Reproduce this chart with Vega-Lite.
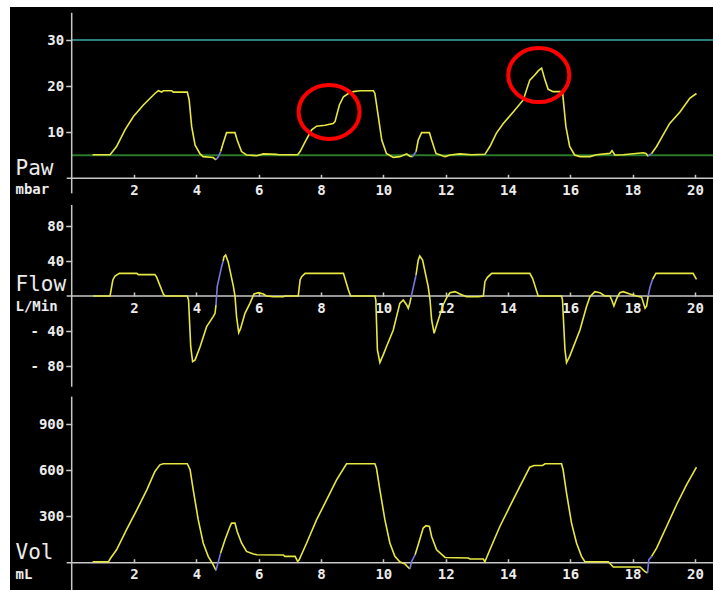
{
  "$schema": "https://vega.github.io/schema/vega-lite/v6.json",
  "background": "white",
  "padding": {"left": 10, "top": 7, "right": 0, "bottom": 0},
  "spacing": 0,
  "config": {
    "view": {"stroke": null, "fill": "black"},
    "axis": {
      "domain": false, "grid": false,
      "tickColor": "#c8c8c8", "tickWidth": 1.5,
      "labelFont": "DejaVu Sans Mono", "labelFontWeight": "bold", "labelFontSize": 14, "labelColor": "#ececec",
      "labelFlush": false, "labelOverlap": false,
      "titleColor": "#ececec", "titleAngle": 0, "titleAlign": "left", "titleBaseline": "alphabetic"
    }
  },
  "datasets": {
    "one": [{}],
    "paw": [
      {"t":0.67,"v":5.1,"s":1,"k":"main"},{"t":1.23,"v":5.1,"s":1,"k":"main"},{"t":1.44,"v":6.9,"s":1,"k":"main"},{"t":1.71,"v":10.5,"s":1,"k":"main"},{"t":1.98,"v":13.4,"s":1,"k":"main"},{"t":2.30,"v":15.9,"s":1,"k":"main"},{"t":2.67,"v":18.4,"s":1,"k":"main"},{"t":2.78,"v":19.0,"s":1,"k":"main"},{"t":2.89,"v":18.7,"s":1,"k":"main"},{"t":2.94,"v":19.0,"s":1,"k":"main"},{"t":3.21,"v":19.0,"s":1,"k":"main"},{"t":3.26,"v":18.7,"s":1,"k":"main"},{"t":3.71,"v":18.7,"s":1,"k":"main"},{"t":3.77,"v":17.0,"s":1,"k":"main"},{"t":3.85,"v":11.2,"s":1,"k":"main"},{"t":3.96,"v":7.2,"s":1,"k":"main"},{"t":4.12,"v":5.3,"s":1,"k":"main"},{"t":4.22,"v":4.7,"s":1,"k":"main"},{"t":4.54,"v":4.5,"s":1,"k":"main"},{"t":4.63,"v":4.0,"s":1,"k":"main"},
      {"t":4.63,"v":4.0,"s":2,"k":"trigger"},{"t":4.70,"v":4.6,"s":2,"k":"trigger"},{"t":4.78,"v":5.8,"s":2,"k":"trigger"},
      {"t":4.78,"v":5.8,"s":3,"k":"main"},{"t":4.86,"v":7.6,"s":3,"k":"main"},{"t":4.97,"v":9.9,"s":3,"k":"main"},{"t":5.24,"v":9.9,"s":3,"k":"main"},{"t":5.31,"v":8.3,"s":3,"k":"main"},{"t":5.45,"v":5.8,"s":3,"k":"main"},{"t":5.61,"v":5.05,"s":3,"k":"main"},{"t":5.94,"v":4.9,"s":3,"k":"main"},{"t":6.15,"v":5.3,"s":3,"k":"main"},{"t":6.58,"v":5.2,"s":3,"k":"main"},{"t":6.63,"v":5.1,"s":3,"k":"main"},{"t":7.25,"v":5.1,"s":3,"k":"main"},{"t":7.33,"v":5.8,"s":3,"k":"main"},{"t":7.49,"v":7.9,"s":3,"k":"main"},{"t":7.70,"v":10.5,"s":3,"k":"main"},{"t":7.86,"v":11.3,"s":3,"k":"main"},{"t":8.13,"v":11.5,"s":3,"k":"main"},{"t":8.39,"v":11.9,"s":3,"k":"main"},{"t":8.45,"v":12.3,"s":3,"k":"main"},{"t":8.59,"v":15.9,"s":3,"k":"main"},{"t":8.72,"v":17.7,"s":3,"k":"main"},{"t":8.88,"v":18.4,"s":3,"k":"main"},{"t":9.04,"v":18.8,"s":3,"k":"main"},{"t":9.25,"v":19.0,"s":3,"k":"main"},{"t":9.68,"v":19.0,"s":3,"k":"main"},{"t":9.73,"v":18.4,"s":3,"k":"main"},{"t":9.84,"v":13.4,"s":3,"k":"main"},{"t":9.95,"v":8.3,"s":3,"k":"main"},{"t":10.1,"v":5.4,"s":3,"k":"main"},{"t":10.32,"v":4.55,"s":3,"k":"main"},{"t":10.53,"v":4.7,"s":3,"k":"main"},{"t":10.75,"v":5.3,"s":3,"k":"main"},{"t":10.85,"v":4.8,"s":3,"k":"main"},{"t":10.94,"v":4.7,"s":3,"k":"main"},
      {"t":10.94,"v":4.7,"s":4,"k":"trigger"},{"t":11.05,"v":5.8,"s":4,"k":"trigger"},
      {"t":11.05,"v":5.8,"s":5,"k":"main"},{"t":11.12,"v":8.3,"s":5,"k":"main"},{"t":11.23,"v":9.9,"s":5,"k":"main"},{"t":11.48,"v":9.9,"s":5,"k":"main"},{"t":11.55,"v":8.3,"s":5,"k":"main"},{"t":11.69,"v":5.4,"s":5,"k":"main"},{"t":11.98,"v":4.7,"s":5,"k":"main"},{"t":12.14,"v":5.05,"s":5,"k":"main"},{"t":12.46,"v":5.3,"s":5,"k":"main"},{"t":12.83,"v":5.1,"s":5,"k":"main"},{"t":13.26,"v":5.2,"s":5,"k":"main"},{"t":13.42,"v":6.9,"s":5,"k":"main"},{"t":13.63,"v":9.8,"s":5,"k":"main"},{"t":13.85,"v":11.9,"s":5,"k":"main"},{"t":14.17,"v":14.4,"s":5,"k":"main"},{"t":14.49,"v":17.0,"s":5,"k":"main"},{"t":14.70,"v":21.3,"s":5,"k":"main"},{"t":14.86,"v":22.4,"s":5,"k":"main"},{"t":14.97,"v":23.3,"s":5,"k":"main"},{"t":15.08,"v":23.9,"s":5,"k":"main"},{"t":15.19,"v":21.3,"s":5,"k":"main"},{"t":15.29,"v":19.3,"s":5,"k":"main"},{"t":15.45,"v":18.8,"s":5,"k":"main"},{"t":15.75,"v":18.8,"s":5,"k":"main"},{"t":15.86,"v":11.2,"s":5,"k":"main"},{"t":15.98,"v":6.9,"s":5,"k":"main"},{"t":16.14,"v":5.05,"s":5,"k":"main"},{"t":16.31,"v":4.7,"s":5,"k":"main"},{"t":16.63,"v":4.7,"s":5,"k":"main"},{"t":16.84,"v":5.1,"s":5,"k":"main"},{"t":17.27,"v":5.4,"s":5,"k":"main"},{"t":17.34,"v":6.0,"s":5,"k":"main"},{"t":17.43,"v":5.05,"s":5,"k":"main"},{"t":17.70,"v":5.1,"s":5,"k":"main"},{"t":18.34,"v":5.55,"s":5,"k":"main"},{"t":18.43,"v":5.4,"s":5,"k":"main"},{"t":18.50,"v":4.8,"s":5,"k":"main"},
      {"t":18.50,"v":4.8,"s":6,"k":"trigger"},{"t":18.61,"v":5.4,"s":6,"k":"trigger"},
      {"t":18.61,"v":5.4,"s":7,"k":"main"},{"t":18.77,"v":6.9,"s":7,"k":"main"},{"t":18.98,"v":9.4,"s":7,"k":"main"},{"t":19.19,"v":11.9,"s":7,"k":"main"},{"t":19.52,"v":14.4,"s":7,"k":"main"},{"t":19.84,"v":17.4,"s":7,"k":"main"},{"t":20.05,"v":18.4,"s":7,"k":"main"}
    ],
    "flow": [
      {"t":0.69,"v":0,"s":1,"k":"main"},{"t":1.23,"v":0,"s":1,"k":"main"},{"t":1.32,"v":18.3,"s":1,"k":"main"},{"t":1.39,"v":22.9,"s":1,"k":"main"},{"t":1.53,"v":25.9,"s":1,"k":"main"},{"t":2.09,"v":25.9,"s":1,"k":"main"},{"t":2.14,"v":24.4,"s":1,"k":"main"},{"t":2.67,"v":24.4,"s":1,"k":"main"},{"t":2.73,"v":21.3,"s":1,"k":"main"},{"t":2.94,"v":2.3,"s":1,"k":"main"},{"t":3.0,"v":0,"s":1,"k":"main"},{"t":3.71,"v":0,"s":1,"k":"main"},{"t":3.75,"v":-4.6,"s":1,"k":"main"},{"t":3.82,"v":-57.9,"s":1,"k":"main"},{"t":3.88,"v":-75,"s":1,"k":"main"},{"t":3.96,"v":-73,"s":1,"k":"main"},{"t":4.12,"v":-58,"s":1,"k":"main"},{"t":4.33,"v":-35,"s":1,"k":"main"},{"t":4.54,"v":-23.6,"s":1,"k":"main"},{"t":4.60,"v":-19.8,"s":1,"k":"main"},{"t":4.63,"v":-10.3,"s":1,"k":"main"},
      {"t":4.63,"v":-10.3,"s":2,"k":"trigger"},{"t":4.67,"v":10.7,"s":2,"k":"trigger"},{"t":4.81,"v":33.5,"s":2,"k":"trigger"},{"t":4.86,"v":40,"s":2,"k":"trigger"},
      {"t":4.86,"v":40,"s":3,"k":"main"},{"t":4.89,"v":45,"s":3,"k":"main"},{"t":4.94,"v":46.9,"s":3,"k":"main"},{"t":5.02,"v":39.2,"s":3,"k":"main"},{"t":5.19,"v":10.7,"s":3,"k":"main"},{"t":5.24,"v":0,"s":3,"k":"main"},{"t":5.29,"v":-23.6,"s":3,"k":"main"},{"t":5.36,"v":-41.9,"s":3,"k":"main"},{"t":5.42,"v":-37,"s":3,"k":"main"},{"t":5.56,"v":-19.8,"s":3,"k":"main"},{"t":5.72,"v":-8.4,"s":3,"k":"main"},{"t":5.85,"v":2.3,"s":3,"k":"main"},{"t":5.99,"v":3.8,"s":3,"k":"main"},{"t":6.15,"v":2.3,"s":3,"k":"main"},{"t":6.25,"v":0,"s":3,"k":"main"},{"t":6.47,"v":-0.8,"s":3,"k":"main"},{"t":6.79,"v":-0.8,"s":3,"k":"main"},{"t":6.84,"v":0,"s":3,"k":"main"},{"t":7.27,"v":0,"s":3,"k":"main"},{"t":7.33,"v":18.3,"s":3,"k":"main"},{"t":7.38,"v":22,"s":3,"k":"main"},{"t":7.49,"v":25.9,"s":3,"k":"main"},{"t":8.72,"v":25.9,"s":3,"k":"main"},{"t":8.88,"v":6.9,"s":3,"k":"main"},{"t":8.95,"v":0,"s":3,"k":"main"},{"t":9.73,"v":0,"s":3,"k":"main"},{"t":9.76,"v":-4.6,"s":3,"k":"main"},{"t":9.81,"v":-61.7,"s":3,"k":"main"},{"t":9.89,"v":-76,"s":3,"k":"main"},{"t":10.0,"v":-67,"s":3,"k":"main"},{"t":10.1,"v":-58,"s":3,"k":"main"},{"t":10.32,"v":-38.9,"s":3,"k":"main"},{"t":10.53,"v":-8.4,"s":3,"k":"main"},{"t":10.64,"v":-4.6,"s":3,"k":"main"},{"t":10.75,"v":-10.3,"s":3,"k":"main"},{"t":10.80,"v":-14,"s":3,"k":"main"},{"t":10.85,"v":-8.4,"s":3,"k":"main"},{"t":10.89,"v":-1.5,"s":3,"k":"main"},
      {"t":10.89,"v":-1.5,"s":4,"k":"trigger"},{"t":11.05,"v":24,"s":4,"k":"trigger"},
      {"t":11.05,"v":24,"s":5,"k":"main"},{"t":11.12,"v":41,"s":5,"k":"main"},{"t":11.17,"v":45.7,"s":5,"k":"main"},{"t":11.26,"v":41,"s":5,"k":"main"},{"t":11.44,"v":10.7,"s":5,"k":"main"},{"t":11.5,"v":-4.6,"s":5,"k":"main"},{"t":11.55,"v":-27.4,"s":5,"k":"main"},{"t":11.63,"v":-42.7,"s":5,"k":"main"},{"t":11.73,"v":-31.2,"s":5,"k":"main"},{"t":11.92,"v":-10.3,"s":5,"k":"main"},{"t":12.05,"v":-0.8,"s":5,"k":"main"},{"t":12.14,"v":3.8,"s":5,"k":"main"},{"t":12.3,"v":5,"s":5,"k":"main"},{"t":12.46,"v":2.3,"s":5,"k":"main"},{"t":12.67,"v":-0.8,"s":5,"k":"main"},{"t":13.05,"v":-0.8,"s":5,"k":"main"},{"t":13.21,"v":0,"s":5,"k":"main"},{"t":13.26,"v":16.4,"s":5,"k":"main"},{"t":13.34,"v":21.3,"s":5,"k":"main"},{"t":13.48,"v":25.9,"s":5,"k":"main"},{"t":14.70,"v":25.9,"s":5,"k":"main"},{"t":14.79,"v":20.2,"s":5,"k":"main"},{"t":14.97,"v":0,"s":5,"k":"main"},{"t":15.72,"v":0,"s":5,"k":"main"},{"t":15.75,"v":-4.6,"s":5,"k":"main"},{"t":15.83,"v":-61.7,"s":5,"k":"main"},{"t":15.88,"v":-76,"s":5,"k":"main"},{"t":15.98,"v":-69,"s":5,"k":"main"},{"t":16.31,"v":-38.9,"s":5,"k":"main"},{"t":16.52,"v":-12.2,"s":5,"k":"main"},{"t":16.63,"v":-0.8,"s":5,"k":"main"},{"t":16.79,"v":5,"s":5,"k":"main"},{"t":16.95,"v":3.8,"s":5,"k":"main"},{"t":17.11,"v":0,"s":5,"k":"main"},{"t":17.27,"v":0,"s":5,"k":"main"},{"t":17.33,"v":-4.6,"s":5,"k":"main"},{"t":17.40,"v":-11.4,"s":5,"k":"main"},{"t":17.49,"v":-2.7,"s":5,"k":"main"},{"t":17.59,"v":3.8,"s":5,"k":"main"},{"t":17.70,"v":5,"s":5,"k":"main"},{"t":17.91,"v":2.3,"s":5,"k":"main"},{"t":18.13,"v":0,"s":5,"k":"main"},{"t":18.29,"v":-1.5,"s":5,"k":"main"},{"t":18.40,"v":-14,"s":5,"k":"main"},{"t":18.45,"v":-11.4,"s":5,"k":"main"},{"t":18.50,"v":0,"s":5,"k":"main"},
      {"t":18.50,"v":0,"s":6,"k":"trigger"},{"t":18.56,"v":10.7,"s":6,"k":"trigger"},{"t":18.64,"v":19,"s":6,"k":"trigger"},
      {"t":18.64,"v":19,"s":7,"k":"main"},{"t":18.75,"v":25.9,"s":7,"k":"main"},{"t":19.94,"v":25.9,"s":7,"k":"main"},{"t":20.05,"v":19,"s":7,"k":"main"}
    ],
    "vol": [
      {"t":0.67,"v":6,"s":1,"k":"main"},{"t":1.18,"v":6,"s":1,"k":"main"},{"t":1.23,"v":24,"s":1,"k":"main"},{"t":1.44,"v":84,"s":1,"k":"main"},{"t":1.76,"v":214,"s":1,"k":"main"},{"t":2.09,"v":343,"s":1,"k":"main"},{"t":2.41,"v":473,"s":1,"k":"main"},{"t":2.67,"v":592,"s":1,"k":"main"},{"t":2.83,"v":635,"s":1,"k":"main"},{"t":2.94,"v":642,"s":1,"k":"main"},{"t":3.71,"v":642,"s":1,"k":"main"},{"t":3.80,"v":603,"s":1,"k":"main"},{"t":3.90,"v":473,"s":1,"k":"main"},{"t":4.06,"v":279,"s":1,"k":"main"},{"t":4.22,"v":128,"s":1,"k":"main"},{"t":4.38,"v":41,"s":1,"k":"main"},{"t":4.54,"v":-13,"s":1,"k":"main"},{"t":4.63,"v":-50,"s":1,"k":"main"},
      {"t":4.63,"v":-50,"s":2,"k":"trigger"},{"t":4.78,"v":63,"s":2,"k":"trigger"},
      {"t":4.78,"v":63,"s":3,"k":"main"},{"t":4.92,"v":149,"s":3,"k":"main"},{"t":5.08,"v":235,"s":3,"k":"main"},{"t":5.13,"v":257,"s":3,"k":"main"},{"t":5.24,"v":257,"s":3,"k":"main"},{"t":5.31,"v":203,"s":3,"k":"main"},{"t":5.45,"v":128,"s":3,"k":"main"},{"t":5.61,"v":73,"s":3,"k":"main"},{"t":5.83,"v":56,"s":3,"k":"main"},{"t":5.94,"v":52,"s":3,"k":"main"},{"t":6.79,"v":50,"s":3,"k":"main"},{"t":6.84,"v":41,"s":3,"k":"main"},{"t":7.17,"v":41,"s":3,"k":"main"},{"t":7.25,"v":8,"s":3,"k":"main"},{"t":7.30,"v":19,"s":3,"k":"main"},{"t":7.54,"v":128,"s":3,"k":"main"},{"t":7.86,"v":279,"s":3,"k":"main"},{"t":8.18,"v":408,"s":3,"k":"main"},{"t":8.50,"v":538,"s":3,"k":"main"},{"t":8.82,"v":642,"s":3,"k":"main"},{"t":9.73,"v":642,"s":3,"k":"main"},{"t":9.78,"v":614,"s":3,"k":"main"},{"t":9.89,"v":473,"s":3,"k":"main"},{"t":10.05,"v":279,"s":3,"k":"main"},{"t":10.21,"v":128,"s":3,"k":"main"},{"t":10.37,"v":41,"s":3,"k":"main"},{"t":10.53,"v":6,"s":3,"k":"main"},{"t":10.70,"v":-9,"s":3,"k":"main"},{"t":10.85,"v":-41,"s":3,"k":"main"},
      {"t":10.85,"v":-41,"s":4,"k":"trigger"},{"t":10.91,"v":8,"s":4,"k":"trigger"},{"t":11.02,"v":52,"s":4,"k":"trigger"},
      {"t":11.02,"v":52,"s":5,"k":"main"},{"t":11.12,"v":117,"s":5,"k":"main"},{"t":11.28,"v":225,"s":5,"k":"main"},{"t":11.37,"v":240,"s":5,"k":"main"},{"t":11.48,"v":235,"s":5,"k":"main"},{"t":11.55,"v":170,"s":5,"k":"main"},{"t":11.71,"v":84,"s":5,"k":"main"},{"t":11.98,"v":34,"s":5,"k":"main"},{"t":12.73,"v":30,"s":5,"k":"main"},{"t":12.78,"v":24,"s":5,"k":"main"},{"t":13.21,"v":24,"s":5,"k":"main"},{"t":13.26,"v":6,"s":5,"k":"main"},{"t":13.42,"v":84,"s":5,"k":"main"},{"t":13.74,"v":235,"s":5,"k":"main"},{"t":14.06,"v":365,"s":5,"k":"main"},{"t":14.38,"v":494,"s":5,"k":"main"},{"t":14.70,"v":620,"s":5,"k":"main"},{"t":14.84,"v":631,"s":5,"k":"main"},{"t":15.11,"v":631,"s":5,"k":"main"},{"t":15.19,"v":642,"s":5,"k":"main"},{"t":15.72,"v":642,"s":5,"k":"main"},{"t":15.77,"v":603,"s":5,"k":"main"},{"t":15.88,"v":451,"s":5,"k":"main"},{"t":16.04,"v":257,"s":5,"k":"main"},{"t":16.2,"v":128,"s":5,"k":"main"},{"t":16.36,"v":41,"s":5,"k":"main"},{"t":16.47,"v":6,"s":5,"k":"main"},{"t":17.22,"v":6,"s":5,"k":"main"},{"t":17.38,"v":-28,"s":5,"k":"main"},{"t":18.24,"v":-28,"s":5,"k":"main"},{"t":18.39,"v":-56,"s":5,"k":"main"},{"t":18.48,"v":-67,"s":5,"k":"main"},
      {"t":18.48,"v":-67,"s":6,"k":"trigger"},{"t":18.52,"v":19,"s":6,"k":"trigger"},{"t":18.61,"v":41,"s":6,"k":"trigger"},
      {"t":18.61,"v":41,"s":7,"k":"main"},{"t":18.77,"v":95,"s":7,"k":"main"},{"t":19.09,"v":235,"s":7,"k":"main"},{"t":19.41,"v":376,"s":7,"k":"main"},{"t":19.73,"v":505,"s":7,"k":"main"},{"t":20.05,"v":620,"s":7,"k":"main"}
    ],
    "marks": [
      {"t":8.26,"v":14.4},{"t":14.99,"v":22.4}
    ]
  },
  "vconcat": [
    {
      "width": 703, "height": 192,
      "layer": [
        {"data": {"name": "one"}, "mark": {"type": "rule", "color": "#2b8080", "strokeWidth": 2},
         "encoding": {"x": {"datum": 0, "type": "quantitative"}, "x2": {"datum": 20.58}, "y": {"datum": 30, "type": "quantitative"}}},
        {"data": {"name": "one"}, "mark": {"type": "rule", "color": "#2a7a2a", "strokeWidth": 2},
         "encoding": {"x": {"datum": 0, "type": "quantitative"}, "x2": {"datum": 20.58}, "y": {"datum": 5, "type": "quantitative"}}},
        {"data": {"name": "one"}, "mark": {"type": "rule", "color": "#c8c8c8", "strokeWidth": 1.5},
         "encoding": {"x": {"datum": -0.16, "type": "quantitative"}, "x2": {"datum": 20.58}, "y": {"datum": 0, "type": "quantitative"}}},
        {"data": {"name": "one"}, "mark": {"type": "rule", "color": "#c8c8c8", "strokeWidth": 1.5},
         "encoding": {"x": {"datum": 0, "type": "quantitative"}, "y": {"datum": -3.25, "type": "quantitative"}, "y2": {"datum": 35.9}}},
        {"data": {"name": "paw"},
         "mark": {"type": "line", "strokeWidth": 1.6},
         "encoding": {
           "x": {"field": "t", "type": "quantitative", "scale": {"domain": [-1.98, 20.58], "nice": false, "zero": false},
                 "axis": {"values": [2,4,6,8,10,12,14,16,18,20], "offset": -20.7, "tickSize": -4, "labelPadding": 9,
                          "title": "mbar", "titleFont": "DejaVu Sans Mono", "titleFontWeight": "bold", "titleFontSize": 14, "titleX": 5, "titleY": 14.7}},
           "y": {"field": "v", "type": "quantitative", "scale": {"domain": [-4.49, 37.16], "nice": false, "zero": false},
                 "axis": {"values": [10,20,30], "offset": -61.7, "tickSize": 6, "labelPadding": 2,
                          "title": "Paw", "titleFont": "DejaVu Sans Mono", "titleFontWeight": "normal", "titleFontSize": 21, "titleX": -56.7, "titleY": 167}},
           "detail": {"field": "s", "type": "nominal"},
           "color": {"field": "k", "type": "nominal", "scale": {"domain": ["main", "trigger"], "range": ["#e8e840", "#7878e0"]}, "legend": null}
         }},
        {"data": {"name": "marks"},
         "mark": {"type": "point", "shape": "M-1,0A1,0.885,0,1,0,1,0A1,0.885,0,1,0,-1,0Z", "size": 3721, "filled": false, "stroke": "#ff0000", "strokeWidth": 4, "opacity": 1},
         "encoding": {"x": {"field": "t", "type": "quantitative"}, "y": {"field": "v", "type": "quantitative"}}}
      ]
    },
    {
      "width": 703, "height": 193,
      "layer": [
        {"data": {"name": "one"}, "mark": {"type": "rule", "color": "#c8c8c8", "strokeWidth": 1.5},
         "encoding": {"x": {"datum": -0.16, "type": "quantitative"}, "x2": {"datum": 20.58}, "y": {"datum": 0, "type": "quantitative"}}},
        {"data": {"name": "one"}, "mark": {"type": "rule", "color": "#c8c8c8", "strokeWidth": 1.5},
         "encoding": {"x": {"datum": 0, "type": "quantitative"}, "y": {"datum": -103.7, "type": "quantitative"}, "y2": {"datum": 104}}},
        {"data": {"name": "flow"},
         "mark": {"type": "line", "strokeWidth": 1.6},
         "encoding": {
           "x": {"field": "t", "type": "quantitative", "scale": {"domain": [-1.98, 20.58], "nice": false, "zero": false},
                 "axis": {"values": [2,4,6,8,10,12,14,16,18,20], "offset": -96, "tickSize": -4, "labelPadding": 9,
                          "title": "L/Min", "titleFont": "DejaVu Sans Mono", "titleFontWeight": "bold", "titleFontSize": 14, "titleX": 5, "titleY": 14.7}},
           "y": {"field": "v", "type": "quantitative", "scale": {"domain": [-109.71, 110.86], "nice": false, "zero": false},
                 "axis": {"values": [80,40,-40,-80], "offset": -61.7, "tickSize": 6, "labelPadding": 2,
                          "labelExpr": "datum.value < 0 ? '- ' + abs(datum.value) : datum.label",
                          "title": "Flow", "titleFont": "DejaVu Sans Mono", "titleFontWeight": "normal", "titleFontSize": 21, "titleX": -56.7, "titleY": 91}},
           "detail": {"field": "s", "type": "nominal"},
           "color": {"field": "k", "type": "nominal", "scale": {"domain": ["main", "trigger"], "range": ["#e8e840", "#7878e0"]}, "legend": null}
         }}
      ]
    },
    {
      "width": 703, "height": 198,
      "layer": [
        {"data": {"name": "one"}, "mark": {"type": "rule", "color": "#c8c8c8", "strokeWidth": 1.5},
         "encoding": {"x": {"datum": -0.16, "type": "quantitative"}, "x2": {"datum": 20.58}, "y": {"datum": 0, "type": "quantitative"}}},
        {"data": {"name": "one"}, "mark": {"type": "rule", "color": "#c8c8c8", "strokeWidth": 1.5},
         "encoding": {"x": {"datum": 0, "type": "quantitative"}, "y": {"datum": -177.2, "type": "quantitative"}, "y2": {"datum": 1078}}},
        {"data": {"name": "vol"},
         "mark": {"type": "line", "strokeWidth": 1.6},
         "encoding": {
           "x": {"field": "t", "type": "quantitative", "scale": {"domain": [-1.98, 20.58], "nice": false, "zero": false},
                 "axis": {"values": [2,4,6,8,10,12,14,16,18,20], "offset": -27.3, "tickSize": -4, "labelPadding": 9,
                          "title": "mL", "titleFont": "DejaVu Sans Mono", "titleFontWeight": "bold", "titleFontSize": 14, "titleX": 5, "titleY": 15.6}},
           "y": {"field": "v", "type": "quantitative", "scale": {"domain": [-177.2, 1107.7], "nice": false, "zero": false},
                 "axis": {"values": [300,600,900], "offset": -61.7, "tickSize": 6, "labelPadding": 2,
                          "title": "Vol", "titleFont": "DejaVu Sans Mono", "titleFontWeight": "normal", "titleFontSize": 21, "titleX": -56.7, "titleY": 166.3}},
           "detail": {"field": "s", "type": "nominal"},
           "color": {"field": "k", "type": "nominal", "scale": {"domain": ["main", "trigger"], "range": ["#e8e840", "#7878e0"]}, "legend": null}
         }}
      ]
    }
  ]
}
